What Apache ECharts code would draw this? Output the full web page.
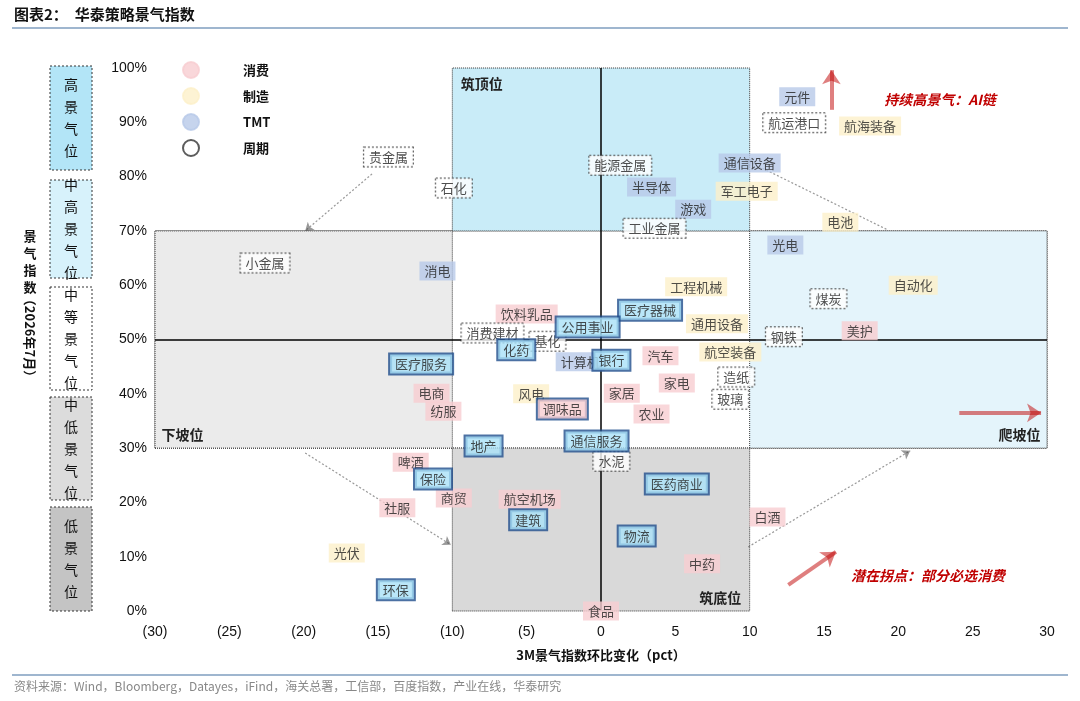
<!DOCTYPE html>
<html><head><meta charset="utf-8">
<script src="https://cdn.jsdelivr.net/npm/echarts@6/dist/echarts.min.js"></script>
<style>html,body{margin:0;padding:0;background:#fff}#c{width:1080px;height:701px}</style>
</head><body><div id="c"></div>
<script>
// 行业名称、3M景气环比变化(pct)、景气指数(%)、分组
var names = ['元件','航运港口','航海装备','贵金属','能源金属','石化','通信设备','半导体','军工电子','游戏','工业金属','电池','光电','小金属','消电','工程机械','自动化','煤炭','饮料乳品','医疗器械','美护','通用设备','消费建材','公用事业','钢铁','基化','化药','航空装备','医疗服务','计算机','银行','汽车','造纸','家电','电商','风电','家居','玻璃','纺服','调味品','农业','地产','通信服务','水泥','啤酒','保险','医药商业','商贸','航空机场','社服','白酒','建筑','物流','光伏','中药','环保','食品'];
var chg = [13.2,13.0,18.1,-14.3,1.3,-9.9,10.0,3.4,9.8,6.2,3.6,16.1,12.4,-22.6,-11.0,6.4,21.0,15.3,-5.0,3.3,17.4,7.8,-7.3,-0.9,12.3,-3.6,-5.7,8.7,-12.1,-1.4,0.7,4.0,9.1,5.1,-11.4,-4.7,1.4,8.7,-10.6,-2.6,3.4,-7.9,-0.3,0.7,-12.8,-11.3,5.1,-9.9,-4.8,-13.7,11.2,-4.9,2.4,-17.1,6.8,-13.8,0.0];
var idx = [94.7,89.9,89.3,83.6,82.1,77.9,82.5,78.1,77.3,74.0,70.5,71.6,67.4,64.1,62.6,59.7,60.0,57.5,54.7,55.4,51.6,52.9,51.2,52.3,50.5,49.7,48.1,47.7,45.5,45.9,46.2,47.0,43.1,42.0,40.1,40.0,40.1,39.0,36.8,37.2,36.3,30.4,31.3,27.6,27.4,24.3,23.4,20.8,20.6,19.0,17.3,16.8,13.8,10.7,8.7,3.9,0.0];
var groups = ['TMT','周期','制造','周期','周期','周期','TMT','TMT','制造','TMT','周期','制造','TMT','周期','TMT','制造','制造','周期','消费','重点','消费','制造','周期','重点','周期','周期','重点','制造','重点','TMT','重点','消费','周期','消费','消费','制造','消费','周期','消费','重点','消费','重点','重点','周期','消费','重点','重点','消费','消费','消费','消费','重点','重点','制造','消费','重点','消费'];
var legendNames = ['消费','制造','TMT','周期'];
var xTicks = [-30,-25,-20,-15,-10,-5,0,5,10,15,20,25,30];
// 箭头（虚线）起止点
var dashArrows = [[[-15.4,80.5],[-19.9,70.0]],[[-19.9,29.1],[-10.1,12.2]],[[9.9,11.8],[20.8,29.5]],[[19.2,70.3],[9.7,83.1]]];
var redArrows = [[[15.5,92.3],[15.5,99.6]],[[24.1,36.5],[29.6,36.5]],[[12.6,4.8],[15.8,10.9]]];

var styles = {
  '消费': {bg:'#f8cdd1', border:'transparent', type:'solid'},
  '制造': {bg:'#fdf0c9', border:'transparent', type:'solid'},
  'TMT': {bg:'#b8c9e8', border:'transparent', type:'solid'},
  '周期': {bg:'#ffffff', border:'#333', type:'dotted'},
  '重点': {bg:'#a9e1f7', border:'#1f4e8c', type:'solid'}
};
var font = '"Noto Sans CJK SC", sans-serif';

function mkSeries(g) {
  var s = styles[g];
  var data = [];
  for (var i = 0; i < names.length; i++) if (groups[i] === g) data.push({value:[chg[i], idx[i]], name:names[i]});
  if (g === '重点') {
    ['调味品'].forEach(function(n){ data.forEach(function(d){ if (d.name===n) d.label={backgroundColor:'#f8cdd1'}; }); });
  }
  return {
    type:'scatter', name:g, z:5, symbolSize:1, data:data,
    itemStyle:{color:s.bg, borderColor:g==='周期'?'#333':s.bg, borderType:s.type, borderWidth:1},
    label:{show:true, position:'inside', formatter:'{b}', color:'#222', fontSize:13, fontFamily:font,
      backgroundColor:s.bg, borderColor:s.border, borderType:s.type, borderWidth:g==='重点'?2:1, padding:[3,5]}
  };
}

function box(y0, y1, fill, text) {
  return [{type:'rect', shape:{x:50,y:y0,width:42,height:y1-y0}, style:{fill:fill, stroke:'#333', lineDash:[2,2], lineWidth:1}},
    {type:'text', x:71, y:(y0+y1)/2, style:{text:text.split('').join('\n'), font:'14px '+font, fill:'#111', align:'center', verticalAlign:'middle', lineHeight:22}}];
}

var chart = echarts.init(document.getElementById('c'));
var series = legendNames.map(mkSeries).concat([mkSeries('重点')]);
series.push({
  type:'line', data:[], z:1,
  markArea:{silent:true, data:[
    [{xAxis:-30,yAxis:30,itemStyle:{color:'rgba(0,0,0,0)',borderColor:'#333',borderType:'dotted',borderWidth:1}},{xAxis:30,yAxis:70}],
    [{xAxis:-30,yAxis:30,itemStyle:{color:'#ebebeb',borderColor:'#333',borderType:'dotted',borderWidth:1},label:{show:true,position:'insideBottomLeft',formatter:'下坡位',fontSize:14,fontWeight:'bold',color:'#222',offset:[2,-2]}},{xAxis:-10,yAxis:70}],
    [{xAxis:10,yAxis:30,itemStyle:{color:'#e4f4fb',borderColor:'#333',borderType:'dotted',borderWidth:1},label:{show:true,position:'insideBottomRight',formatter:'爬坡位',fontSize:14,fontWeight:'bold',color:'#222',offset:[-2,-2]}},{xAxis:30,yAxis:70}],
    [{xAxis:-10,yAxis:70,itemStyle:{color:'#c9ecf8',borderColor:'#333',borderType:'dotted',borderWidth:1},label:{show:true,position:'insideTopLeft',formatter:'筑顶位',fontSize:14,fontWeight:'bold',color:'#222',offset:[4,4]}},{xAxis:10,yAxis:100}],
    [{xAxis:-10,yAxis:0,itemStyle:{color:'#d9d9d9',borderColor:'#333',borderType:'dotted',borderWidth:1},label:{show:true,position:'insideBottomRight',formatter:'筑底位',fontSize:14,fontWeight:'bold',color:'#222',offset:[-4,-2]}},{xAxis:10,yAxis:30}]
  ]},
  markLine:{silent:true, symbol:'none', label:{show:false}, lineStyle:{color:'#000',type:'solid',width:1.5}, data:[
    [{coord:[0,0]},{coord:[0,100]}], [{coord:[-30,50]},{coord:[30,50]}]
  ]}
});
series.push({type:'lines', coordinateSystem:'cartesian2d', z:3, symbol:['none','arrow'], symbolSize:8,
  lineStyle:{color:'#333', type:[2,2], width:1.2},
  data:dashArrows.map(function(a){return {coords:a};})});
series.push({type:'lines', coordinateSystem:'cartesian2d', z:3, symbol:['none','arrow'], symbolSize:14,
  lineStyle:{color:'#c00000', width:4},
  data:redArrows.map(function(a){return {coords:a};})});

var gfx = [
  {type:'text', left:14, top:7, style:{text:'图表2：  华泰策略景气指数', font:'bold 15px '+font, fill:'#111'}},
  {type:'rect', shape:{x:12,y:27,width:1056,height:2}, style:{fill:'#9fb6cf'}},
  {type:'rect', shape:{x:12,y:674,width:1056,height:2}, style:{fill:'#9fb6cf'}},
  {type:'text', left:14, top:680, style:{text:'资料来源：Wind，Bloomberg，Datayes，iFind，海关总署，工信部，百度指数，产业在线，华泰研究', font:'12px '+font, fill:'#888'}},
  {type:'text', x:30, y:262, style:{text:'景\n气\n指\n数', font:'bold 13px '+font, fill:'#111', align:'center', verticalAlign:'middle', lineHeight:17}},
  {type:'text', x:30, y:338, rotation:-Math.PI/2, style:{text:'（2026年7月）', font:'bold 13px '+font, fill:'#111', align:'center', verticalAlign:'middle'}},
  {type:'text', x:940, y:100, style:{text:'持续高景气：AI链', font:'italic bold 14px '+font, fill:'#c00000', align:'center', verticalAlign:'middle'}},
  {type:'text', x:918, y:387, style:{text:'景气强改善：新兴制造、涨价链', font:'italic bold 14px '+font, fill:'#c00000', align:'center', verticalAlign:'middle'}},
  {type:'text', x:928, y:576, style:{text:'潜在拐点：部分必选消费', font:'italic bold 14px '+font, fill:'#c00000', align:'center', verticalAlign:'middle'}}
];
gfx = gfx.concat(box(66,170,'#b3e5f7','高景气位'), box(180,278,'#d7f2fb','中高景气位'), box(287,390,'#ffffff','中等景气位'), box(397,500,'#dcdcdc','中低景气位'), box(507,611,'#c4c4c4','低景气位'));

chart.setOption({
  animation:false,
  textStyle:{fontFamily:font},
  grid:{left:155, right:33, top:68, bottom:90},
  legend:{data:legendNames, orient:'vertical', left:177, top:56, itemWidth:50, itemHeight:16, itemGap:8,
    textStyle:{fontSize:13, fontWeight:'bold', color:'#111', padding:[0,0,0,22]}},
  xAxis:{type:'value', min:-30, max:30, interval:5, splitLine:{show:false}, axisLine:{show:false}, axisTick:{show:false},
    axisLabel:{fontSize:14, color:'#111', fontFamily:'"Liberation Sans", Arial', margin:14, formatter:function(v){return v<0?'('+(-v)+')':String(v);}},
    name:'3M景气指数环比变化（pct）', nameLocation:'middle', nameGap:38, nameTextStyle:{fontSize:13, fontWeight:'bold', color:'#111'}},
  yAxis:{type:'value', min:0, max:100, interval:10, splitLine:{show:false}, axisLine:{show:false}, axisTick:{show:false},
    axisLabel:{fontSize:14, color:'#111', fontFamily:'"Liberation Sans", Arial', margin:8, formatter:'{value}%'}},
  graphic:gfx,
  series:series
});
</script></body></html>
